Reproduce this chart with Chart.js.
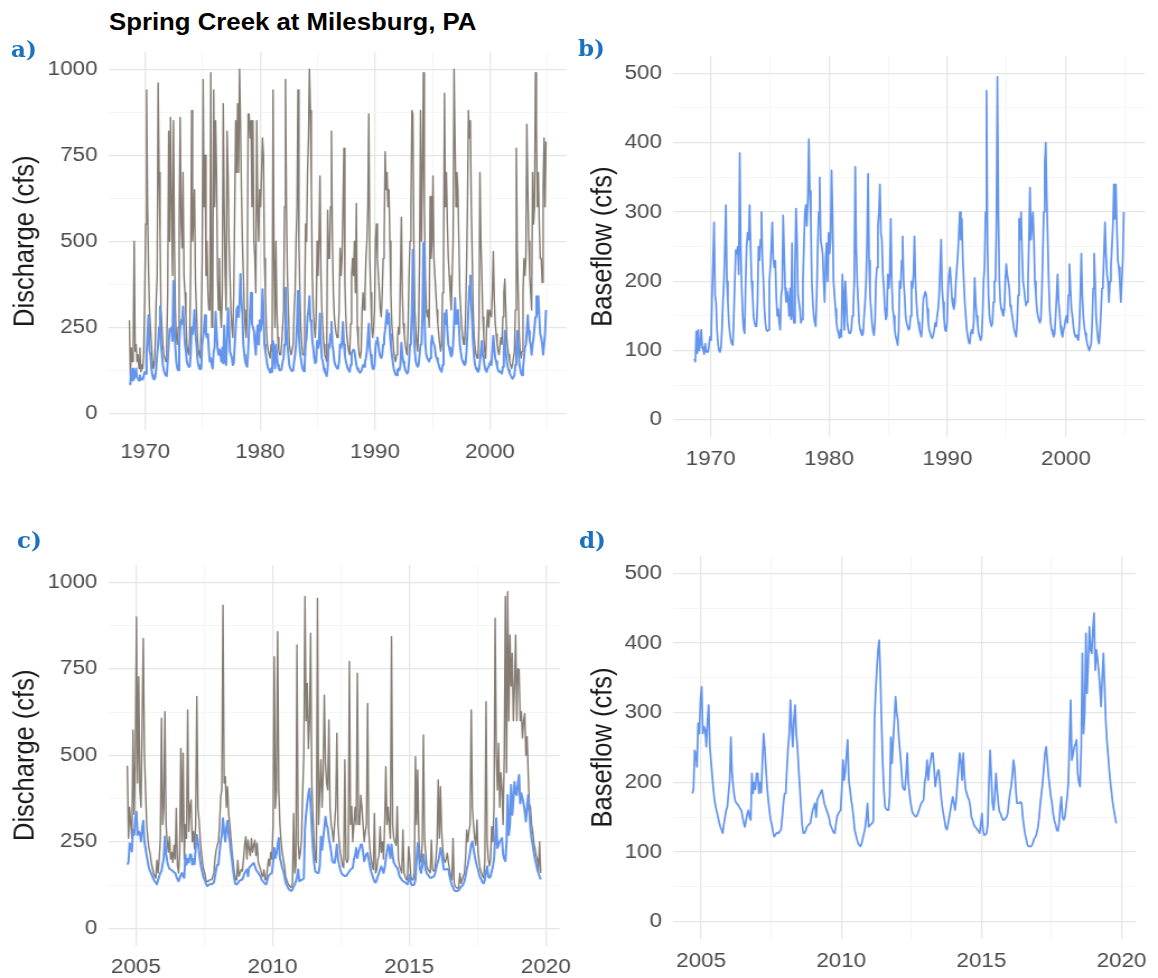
<!DOCTYPE html>
<html>
<head>
<meta charset="utf-8">
<title>Spring Creek at Milesburg, PA</title>
<script src="https://cdn.jsdelivr.net/npm/chart.js@4.4.1/dist/chart.umd.min.js"></script>
<style>
  html, body { margin: 0; padding: 0; background: #fff; }
  body { width: 1158px; height: 978px; position: relative; overflow: hidden; }
  canvas { position: absolute; }
  /* the original figure is stretched sideways */
  .wide { transform: scaleX(1.12); transform-origin: 0 0; }
  #title { position: absolute; left: 109px; top: 11px; font: bold 23px "Liberation Sans", Arial, sans-serif; line-height: 23px; color: #000; white-space: nowrap; }
  .tag { position: absolute; font: bold 23px "DejaVu Serif", serif; line-height: 23px; color: #1b72c0; }
</style>
</head>
<body>
<div id="title" class="wide">Spring Creek at Milesburg, PA</div>
<canvas id="chartA" class="wide" width="520" height="450" style="left:0px;top:30px"></canvas>
<canvas id="chartB" class="wide" width="525" height="450" style="left:570px;top:30px"></canvas>
<canvas id="chartC" class="wide" width="520" height="458" style="left:0px;top:520px"></canvas>
<canvas id="chartD" class="wide" width="525" height="458" style="left:570px;top:520px"></canvas>
<div class="tag" style="left:11px;top:37px">a)</div>
<div class="tag" style="left:578px;top:36px">b)</div>
<div class="tag" style="left:17px;top:528px">c)</div>
<div class="tag" style="left:579px;top:528px">d)</div>

<script>
// 1968-08 .. 2004-11, monthly (cfs)
const dischargeA = [
  270,110,190,150,200,
  500,180,200,150,170,130,190,120,140,130,180,330,
  550,940,600,420,300,250,200,150,130,140,200,330,
  400,960,700,520,300,250,200,170,160,150,200,350,
  820,500,860,600,400,850,500,300,220,200,250,550,
  860,550,480,700,400,350,280,200,180,170,220,420,
  880,500,560,650,380,300,220,180,170,160,250,450,
  970,600,750,400,500,350,300,300,990,250,300,940,
  600,850,700,400,300,450,300,250,350,900,600,400,
  300,820,700,500,400,300,250,220,350,600,850,700,
  900,700,1000,850,650,500,400,300,250,220,300,870,
  870,800,850,600,850,500,450,350,850,600,500,650,
  600,700,800,750,450,350,250,200,180,170,160,200,
  180,940,450,250,500,300,220,180,170,170,200,250,
  300,600,970,600,400,300,200,180,170,170,200,300,
  350,500,600,940,500,350,250,200,170,170,300,550,
  500,700,800,1000,880,650,400,300,250,220,280,500,
  400,500,690,400,300,250,200,170,160,150,590,450,
  450,600,820,500,350,280,250,230,220,230,300,480,
  400,450,600,770,380,280,230,200,180,170,260,400,
  450,400,500,350,610,250,200,170,160,180,300,350,
  300,350,450,500,600,870,450,350,250,220,250,300,
  500,550,450,400,350,300,280,350,450,500,760,650,
  700,600,650,500,350,260,220,180,160,150,170,220,
  250,230,400,570,350,260,230,200,180,170,250,400,
  500,600,880,870,500,300,250,200,180,250,450,880,
  500,700,990,600,400,300,280,300,250,630,450,500,
  690,450,400,350,300,260,230,200,180,200,350,450,
  930,600,700,550,450,400,350,300,400,500,1000,800,
  600,700,650,500,350,300,250,220,200,200,280,420,
  600,880,800,850,600,450,300,220,190,170,160,160,
  250,700,500,400,280,220,180,160,250,300,250,300,
  300,280,350,470,330,260,230,200,180,170,200,220,
  200,280,350,390,300,220,190,170,150,140,130,140,
  160,180,300,770,480,350,230,180,160,180,350,450,
  400,450,840,650,500,400,350,300,700,550,600,990,
  830,600,700,550,450,450,380,650,800,600,790
];
const baseflowA = [
  88,84,128,96,130,
  100,110,130,105,100,95,110,98,100,98,110,120,
  115,180,230,285,180,170,130,110,100,98,105,130,
  170,200,250,310,200,170,140,125,115,110,108,150,
  200,245,240,250,210,385,250,190,150,130,125,200,
  250,270,260,310,250,200,180,150,140,135,135,170,
  250,230,260,300,230,200,160,140,130,128,130,200,
  220,250,285,230,220,230,180,150,160,140,130,180,
  190,295,240,190,170,185,175,150,190,145,255,150,
  140,220,305,260,180,170,160,140,145,200,250,300,
  310,280,320,405,330,290,200,170,150,140,135,180,
  250,300,350,260,250,240,200,170,230,255,200,270,
  240,260,360,300,200,180,160,140,130,125,118,130,
  120,210,180,130,200,170,140,130,125,125,130,150,
  160,200,365,250,200,170,140,130,125,122,125,150,
  170,200,260,355,230,180,160,140,128,122,140,200,
  220,280,300,340,270,260,210,190,160,145,150,210,
  190,210,290,200,160,150,130,120,115,108,130,200,
  190,230,265,200,180,150,140,135,130,132,150,200,
  190,210,265,200,170,150,140,130,125,120,140,175,
  180,185,180,160,140,130,125,120,118,122,130,140,
  135,150,160,180,220,260,190,170,145,130,128,140,
  190,210,220,200,175,165,160,170,200,220,240,270,
  300,260,290,230,200,170,150,130,120,112,110,125,
  130,125,140,205,170,150,140,125,120,115,120,150,
  200,220,300,475,250,180,150,140,135,140,170,200,
  200,280,495,300,200,170,160,155,150,160,200,225,
  210,200,190,165,160,150,140,130,125,120,140,180,
  290,260,300,240,200,190,175,165,170,200,260,335,
  260,280,300,260,200,180,160,150,145,140,145,180,
  240,300,370,400,320,260,200,160,140,130,125,120,
  125,150,180,210,170,155,135,125,120,130,135,145,
  150,140,180,225,190,160,150,135,125,120,122,118,
  115,135,180,240,180,150,135,125,118,110,105,100,
  105,110,140,190,240,200,150,130,115,110,130,160,
  190,200,240,285,240,210,200,170,200,220,250,280,
  340,290,340,280,230,220,200,170,200,230,300
];

// 2004-09 .. 2019-10, twice a month (cfs)
const dischargeC = [
  470,260,350,300,260,573,330,480,
  900,420,727,400,350,600,838,506,400,300,260,230,217,190,175,160,150,145,197,160,200,260,607,300,
  350,626,300,250,220,265,200,220,190,240,200,347,180,160,220,520,250,506,200,300,260,631,280,350,
  371,250,280,230,300,670,350,313,260,220,190,170,160,140,135,135,140,140,140,150,160,200,226,240,
  250,300,380,400,934,420,438,350,409,330,300,260,220,190,160,140,140,197,150,160,170,165,200,240,
  265,200,255,230,210,260,220,240,255,210,246,190,180,170,155,150,169,140,140,170,200,180,220,200,
  300,785,347,400,857,400,300,250,220,200,180,150,140,130,125,120,118,130,332,160,180,819,250,200,
  220,260,400,500,959,600,708,520,600,853,420,320,250,200,190,954,300,400,487,350,450,674,480,420,
  400,602,350,300,280,250,300,350,564,300,250,220,200,180,175,487,200,190,200,771,300,352,250,300,
  350,300,737,300,300,385,350,300,250,280,300,650,280,230,200,180,170,332,160,170,200,210,294,220,
  250,200,300,467,300,350,300,260,843,300,260,250,240,352,200,180,170,160,284,160,150,140,140,236,
  200,150,140,140,160,496,300,458,260,200,190,250,559,260,217,180,170,165,160,255,170,165,170,200,
  250,429,260,409,280,230,200,190,200,217,190,170,150,140,260,130,120,118,115,120,159,130,140,150,
  160,200,284,250,280,300,631,350,300,260,240,313,220,190,170,160,150,145,200,655,250,200,180,200,
  294,250,350,896,500,400,535,350,450,400,300,500,959,450,973,600,848,700,795,600,700,848,600,750,
  747,600,626,550,600,621,500,554,450,360,350,300,280,246,230,210,200,165,250,160
];
const baseflowC = [
  184,190,246,240,222,285,270,320,
  337,270,280,275,251,290,311,251,230,210,190,175,165,158,150,142,136,132,127,140,150,160,165,185,
  203,265,215,194,180,172,170,168,165,162,160,150,142,136,145,155,160,150,146,213,184,200,190,213,
  213,184,200,185,230,270,250,220,194,175,160,146,140,130,122,124,127,128,127,130,132,150,170,184,
  184,220,250,270,318,280,251,290,311,270,251,220,194,165,140,127,127,130,136,138,140,141,150,160,
  165,170,150,175,179,182,186,189,180,170,165,160,155,150,140,136,132,128,127,140,151,155,158,160,
  190,232,203,215,240,261,203,190,175,165,150,132,125,118,112,110,108,112,120,127,135,150,170,136,
  138,140,141,145,289,330,361,390,404,356,289,230,190,165,162,160,160,180,265,227,260,290,323,300,
  289,260,242,220,194,190,189,210,242,200,184,170,160,155,153,151,151,155,160,165,170,172,175,200,
  210,232,203,220,230,242,242,220,194,205,215,218,200,180,165,155,145,135,132,140,150,160,170,179,
  170,160,175,200,220,242,230,203,242,210,190,184,178,175,165,150,146,140,136,135,132,130,127,140,
  155,130,124,125,127,140,200,246,210,170,160,180,213,190,170,158,155,150,146,146,148,150,155,170,
  185,194,210,232,220,190,170,170,170,172,170,150,136,125,118,110,108,108,108,110,115,120,122,128,
  136,150,170,184,200,220,242,251,230,210,194,180,170,155,145,140,132,130,140,165,179,150,146,150,
  165,179,200,260,318,232,240,251,255,261,213,200,194,250,385,270,300,414,328,370,423,390,385,420,
  443,361,390,376,360,337,309,350,385,340,289,260,240,218,200,185,170,160,150,141
];

// dates (decimal years), mid-month / mid-half-month
const monthsA = dischargeA.map((_, i) => 1968 + (7.5 + i) / 12);
const halvesC = dischargeC.map((_, i) => 2004 + (8 + (i + 0.5) / 2) / 12);

const yearTicksA = [1970, 1980, 1990, 2000];
const yearMinorA = [1975, 1985, 1995, 2005];
const yearTicksC = [2005, 2010, 2015, 2020];
const yearMinorC = [2007.5, 2012.5, 2017.5];
const dischargeTicks = [0, 250, 500, 750, 1000];
const dischargeMinor = [125, 375, 625, 875];
const baseflowTicks = [0, 100, 200, 300, 400, 500];
const baseflowMinor = [50, 150, 250, 350, 450];

const GRAY = '#857c72';
const BLUE = '#6495ed';
const FONT = '"Liberation Sans", Arial, sans-serif';

function pairs(xs, ys) {
  return xs.map((x, i) => ({ x: x, y: ys[i] }));
}

function axis(min, max, major, minor, extra) {
  return Object.assign({
    type: 'linear',
    min: min,
    max: max,
    afterBuildTicks: function (scale) {
      scale.ticks = major.concat(minor).sort((a, b) => a - b).map(v => ({ value: v }));
    },
    grid: {
      drawTicks: false,
      color: c => (c.tick && minor.includes(c.tick.value)) ? '#f2f2f2' : '#e6e6e6',
      lineWidth: c => (c.tick && minor.includes(c.tick.value)) ? 0.7 : 1.3
    },
    border: { display: false },
    ticks: {
      autoSkip: false,
      maxRotation: 0,
      padding: 10,
      color: '#4d4d4d',
      font: { family: FONT, size: 20 },
      callback: v => major.includes(v) ? String(v) : ''
    }
  }, extra);
}

function panel(id, datasets, cfg) {
  return new Chart(document.getElementById(id), {
    type: 'line',
    data: { datasets: datasets },
    options: {
      responsive: false,
      animation: false,
      events: [],
      parsing: false,
      normalized: true,
      layout: { padding: { top: cfg.padTop, right: cfg.padRight, left: 0, bottom: 0 } },
      plugins: { legend: { display: false }, tooltip: { enabled: false } },
      elements: { point: { radius: 0 }, line: { tension: 0, borderJoinStyle: 'round' } },
      scales: {
        x: axis(cfg.xMin, cfg.xMax, cfg.xMajor, cfg.xMinor, {
          afterFit: s => { s.height = cfg.xHeight; }
        }),
        y: axis(cfg.yMin, cfg.yMax, cfg.yMajor, cfg.yMinor, {
          afterFit: s => { s.width = cfg.yWidth; },
          title: {
            display: true,
            text: cfg.yTitle,
            color: '#1a1a1a',
            font: { family: FONT, size: 25.5 },
            padding: { top: cfg.titlePad, bottom: 0 }
          }
        })
      }
    }
  });
}

// a) discharge + baseflow, 1968-2004
panel('chartA', [
  { data: pairs(monthsA, baseflowA), borderColor: BLUE, borderWidth: 2, order: 0 },
  { data: pairs(monthsA, dischargeA), borderColor: GRAY, borderWidth: 1.4, order: 1 }
], {
  xMin: 1966.83, xMax: 2006.67, xMajor: yearTicksA, xMinor: yearMinorA,
  yMin: -50, yMax: 1050, yMajor: dischargeTicks, yMinor: dischargeMinor,
  yTitle: 'Discharge (cfs)', titlePad: 7.8,
  yWidth: 97.1, xHeight: 49.6, padTop: 18.6, padRight: 14.1
});

// b) baseflow, 1968-2004
panel('chartB', [
  { data: pairs(monthsA, baseflowA), borderColor: BLUE, borderWidth: 1.7 }
], {
  xMin: 1966.83, xMax: 2006.67, xMajor: yearTicksA, xMinor: yearMinorA,
  yMin: -25, yMax: 525, yMajor: baseflowTicks, yMinor: baseflowMinor,
  yTitle: 'Baseflow (cfs)', titlePad: 15.1,
  yWidth: 92, xHeight: 42.7, padTop: 26, padRight: 11.6
});

// c) discharge + baseflow, 2004-2019
panel('chartC', [
  { data: pairs(halvesC, baseflowC), borderColor: BLUE, borderWidth: 2, order: 0 },
  { data: pairs(halvesC, dischargeC), borderColor: GRAY, borderWidth: 1.4, order: 1 }
], {
  xMin: 2004.0, xMax: 2020.5, xMajor: yearTicksC, xMinor: yearMinorC,
  yMin: -50, yMax: 1050, yMajor: dischargeTicks, yMinor: dischargeMinor,
  yTitle: 'Discharge (cfs)', titlePad: 7.8,
  yWidth: 96.9, xHeight: 32.4, padTop: 45, padRight: 14.3
});

// d) baseflow, 2004-2019
panel('chartD', [
  { data: pairs(halvesC, baseflowC), borderColor: BLUE, borderWidth: 1.7 }
], {
  xMin: 2004.0, xMax: 2020.5, xMajor: yearTicksC, xMinor: yearMinorC,
  yMin: -25, yMax: 525, yMajor: baseflowTicks, yMinor: baseflowMinor,
  yTitle: 'Baseflow (cfs)', titlePad: 15.1,
  yWidth: 92, xHeight: 38.9, padTop: 35.9, padRight: 11.6
});
</script>
</body>
</html>
